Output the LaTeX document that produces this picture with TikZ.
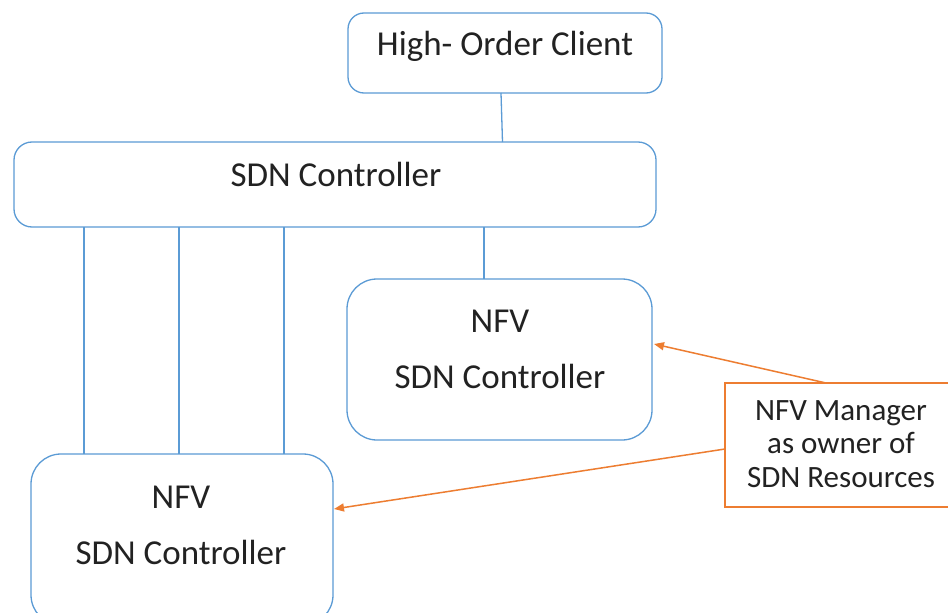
\documentclass[tikz,border=0pt]{standalone}
\usepackage{fontspec}
\setmainfont{Carlito}
\usetikzlibrary{arrows.meta}
\definecolor{boxblue}{HTML}{5B9BD5}
\definecolor{mgrorange}{HTML}{ED7D31}
\definecolor{txt}{HTML}{222222}
\begin{document}
\begin{tikzpicture}[x=1pt,y=-1pt,
  bluebox/.style={draw=boxblue,line width=1.3pt,fill=white,inner sep=0pt,outer sep=0pt},
  orangebox/.style={draw=mgrorange,line width=1.4pt,fill=white,inner sep=0pt,outer sep=0pt,
    minimum width=235pt,minimum height=124pt},
  link/.style={draw=boxblue,line width=1.3pt},
  ownerarrow/.style={draw=mgrorange,line width=1.5pt,-{Triangle[length=10pt,width=8pt]}},
  lbl/.style={font=\fontsize{35}{40}\selectfont,text=txt,anchor=base,inner sep=0pt},
  mlbl/.style={font=\fontsize{31}{35}\selectfont,text=txt,anchor=base,inner sep=0pt}]
\useasboundingbox (0,0) rectangle (948,613);
\clip (0,0) rectangle (948,613);
\fill[white] (0,0) rectangle (948,613);

% boxes
\node[bluebox,rounded corners=16pt,minimum width=314pt,minimum height=80pt] (hoc) at (505,53) {};
\node[bluebox,rounded corners=18pt,minimum width=642pt,minimum height=85pt] (sdn) at (335,184.5) {};
\node[bluebox,rounded corners=30pt,minimum width=305pt,minimum height=161pt] (nfvR) at (499.5,359.5) {};
\node[bluebox,rounded corners=30pt,minimum width=302pt,minimum height=171pt] (nfvL) at (182,539.5) {};
\node[orangebox] (mgr) at (842.5,445) {};

% labels
\node[lbl] (hocT) at (505,55) {High- Order Client};
\node[lbl] (sdnT) at (336,186) {SDN Controller};
\node[lbl] (nfvRa) at (500,332) {NFV};
\node[lbl] (nfvRb) at (500,388) {SDN Controller};
\node[lbl] (nfvLa) at (181,508) {NFV};
\node[lbl] (nfvLb) at (181,564) {SDN Controller};
\node[mlbl] (mgrA) at (841,420) {NFV Manager};
\node[mlbl] (mgrB) at (841,453) {as owner of};
\node[mlbl] (mgrC) at (841,487) {SDN Resources};

% connector positions
\coordinate (c0) at (501,0);
\coordinate (c1) at (84,0);
\coordinate (c2) at (179,0);
\coordinate (c3) at (284,0);
\coordinate (c4) at (484,0);
\coordinate (a1) at (826,0);
\coordinate (a2) at (0,449);
\coordinate (t1) at (0,344);
\coordinate (t2) at (0,509);

% blue links
\draw[link] (hoc.south -| c0) -- ([xshift=1.5pt]sdn.north -| c0);
\draw[link] (sdn.south -| c1) -- (nfvL.north -| c1);
\draw[link] (sdn.south -| c2) -- (nfvL.north -| c2);
\draw[link] (sdn.south -| c3) -- (nfvL.north -| c3);
\draw[link] (sdn.south -| c4) -- (nfvR.north -| c4);

% ownership arrows
\draw[ownerarrow] (mgr.north -| a1) -- ([xshift=2pt]nfvR.east |- t1);
\draw[ownerarrow] (mgr.west |- a2) -- ([xshift=1pt]nfvL.east |- t2);
\end{tikzpicture}
\end{document}
